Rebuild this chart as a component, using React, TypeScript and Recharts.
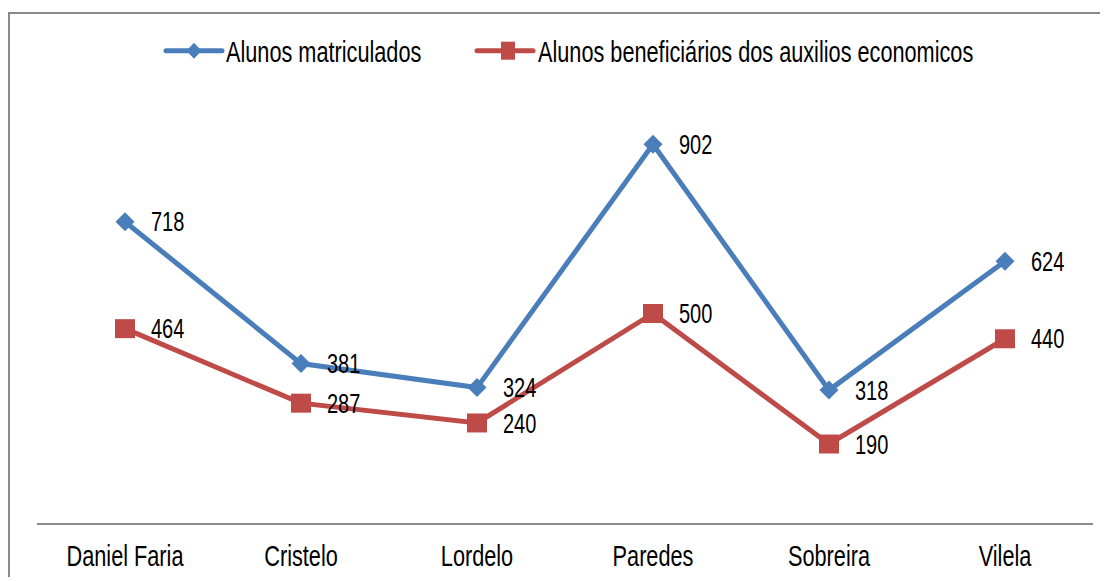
import React from 'react';
import { LineChart, Line, XAxis, YAxis, LabelList, Legend } from 'recharts';

const categories = ['Daniel Faria', 'Cristelo', 'Lordelo', 'Paredes', 'Sobreira', 'Vilela'];
const matriculados = [718, 381, 324, 902, 318, 624];
const beneficiarios = [464, 287, 240, 500, 190, 440];
const seriesNames = ['Alunos matriculados', 'Alunos beneficiários dos auxilios economicos'];

const data = categories.map((c, i) => ({ name: c, a: matriculados[i], b: beneficiarios[i] }));

const BLUE = '#4A7EBB';
const RED = '#BE4B48';
const FONT = '"Liberation Sans", Arial, sans-serif';
const SY = 1.36;

const Diamond = (p: any) => {
  const { cx, cy, index } = p;
  if (cx == null || cy == null) return <g key={index} />;
  const r = 9.5;
  return <path key={index} d={`M${cx},${cy - r}L${cx + r},${cy}L${cx},${cy + r}L${cx - r},${cy}Z`} fill={BLUE} />;
};

const Square = (p: any) => {
  const { cx, cy, index } = p;
  if (cx == null || cy == null) return <g key={index} />;
  return <rect key={index} x={cx - 10} y={cy - 9.5} width={20} height={19} fill={RED} />;
};

const ValueLabel = (p: any) => {
  const { x, y, value } = p;
  return (
    <text
      transform={`translate(${Number(x) + 26},${Number(y) + 9.7}) scale(1,${SY})`}
      fontFamily={FONT}
      fontSize={20}
      fill="#000"
      textAnchor="start"
    >
      {value}
    </text>
  );
};

const CategoryTick = (p: any) => {
  const { x, y, payload } = p;
  return (
    <text
      transform={`translate(${x},${Number(y) + 42}) scale(1,${SY})`}
      fontFamily={FONT}
      fontSize={21.7}
      fill="#000"
      textAnchor="middle"
    >
      {payload.value}
    </text>
  );
};

const legendPos: Record<string, { lx1: number; lx2: number; mx: number; tx: number; shape: string }> = {
  a: { lx1: 156, lx2: 212, mx: 184, tx: 216, shape: 'diamond' },
  b: { lx1: 467, lx2: 523, mx: 498, tx: 528, shape: 'square' },
};

const LegendContent = (props: any) => {
  const payload = props.payload || [];
  return (
    <svg width={1098} height={70} style={{ display: 'block' }}>
      {payload.map((entry: any, i: number) => {
        const pos = legendPos[String(entry.dataKey)];
        if (!pos) return null;
        const ly = 36.7;
        return (
          <g key={i}>
            <line x1={pos.lx1} y1={ly} x2={pos.lx2} y2={ly} stroke={entry.color} strokeWidth={5} strokeLinecap="round" />
            {pos.shape === 'diamond' ? (
              <path d={`M${pos.mx},${ly - 8}L${pos.mx + 7.5},${ly}L${pos.mx},${ly + 8}L${pos.mx - 7.5},${ly}Z`} fill={entry.color} />
            ) : (
              <rect x={pos.mx - 7} y={ly - 9} width={14} height={18} fill={entry.color} />
            )}
            <text
              transform={`translate(${pos.tx},47.7) scale(1,${SY})`}
              fontFamily={FONT}
              fontSize={21.7}
              fill="#000"
            >
              {entry.value}
            </text>
          </g>
        );
      })}
    </svg>
  );
};

export default function App() {
  return (
    <div
      style={{
        position: 'relative',
        top: 4,
        width: 1100,
        height: 569,
        borderLeft: '2px solid #8a8a8a',
        borderTop: '2px solid #8a8a8a',
        boxSizing: 'border-box',
        background: '#fff',
      }}
    >
      <LineChart width={1098} height={567} data={data} margin={{ top: 89, right: 15, bottom: 17, left: 27 }}>
        <XAxis
          dataKey="name"
          axisLine={{ stroke: '#8a8a8a', strokeWidth: 2 }}
          tickLine={false}
          tickSize={0}
          tickMargin={0}
          height={40}
          padding={{ left: 88, right: 88 }}
          tick={<CategoryTick />}
          interval={0}
        />
        <YAxis hide domain={[0, 1000]} />
        <Legend
          layout="horizontal"
          verticalAlign="middle"
          align="center"
          wrapperStyle={{ top: 0, left: 0, width: 1098, height: 70 }}
          content={<LegendContent />}
        />
        <Line
          type="linear"
          dataKey="a"
          name={seriesNames[0]}
          stroke={BLUE}
          strokeWidth={5}
          dot={Diamond}
          activeDot={false}
          isAnimationActive={false}
        >
          <LabelList dataKey="a" content={<ValueLabel />} />
        </Line>
        <Line
          type="linear"
          dataKey="b"
          name={seriesNames[1]}
          stroke={RED}
          strokeWidth={5}
          dot={Square}
          activeDot={false}
          isAnimationActive={false}
        >
          <LabelList dataKey="b" content={<ValueLabel />} />
        </Line>
      </LineChart>
    </div>
  );
}
